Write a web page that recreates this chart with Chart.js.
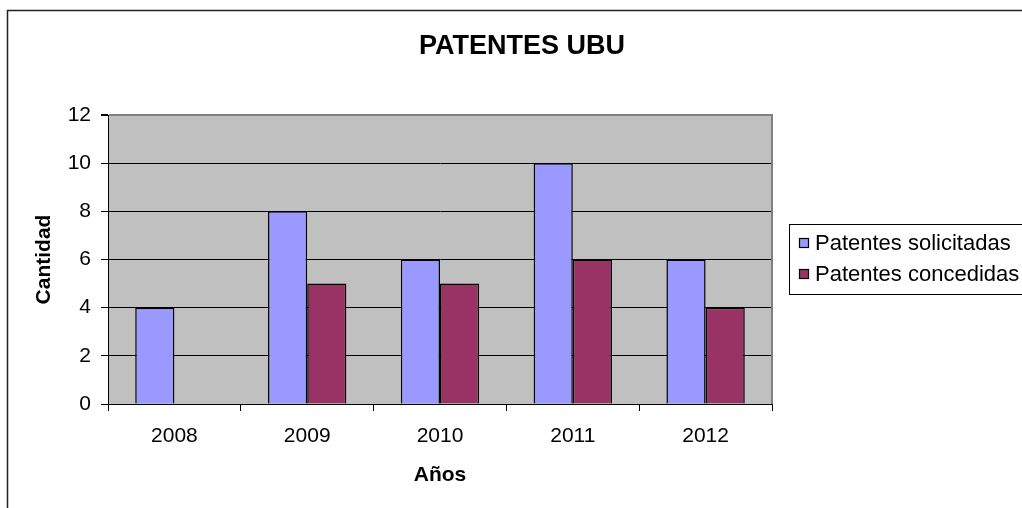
<!DOCTYPE html>
<html>
<head>
<meta charset="utf-8">
<script src="https://cdn.jsdelivr.net/npm/chart.js@4"></script>
<style>
    html, body { margin: 0; padding: 0; background: #fff; }
    #wrap { width: 1022px; height: 508px; }
</style>
</head>
<body>
<div id="wrap"><canvas id="chart-patentes" width="1022" height="508"></canvas></div>
<script>
// Datos del gráfico
const titulo = "PATENTES UBU";
const anios = ["2008", "2009", "2010", "2011", "2012"];
const solicitadas = [4, 8, 6, 10, 6];
const concedidas = [0, 5, 5, 6, 4];
const seriesLabels = ["Patentes solicitadas", "Patentes concedidas"];
const seriesColors = ["#9999FF", "#993366"];

const FONT = "Arial, 'Liberation Sans', sans-serif";

// Fondo gris del área de trazado + marco exterior + borde derecho + título
const plotBackground = {
    id: "plotBackground",
    beforeDraw(chart) {
        const { ctx, chartArea: a } = chart;
        ctx.save();
        ctx.fillStyle = "#C0C0C0";
        ctx.fillRect(a.left, a.top, a.right - a.left, a.bottom - a.top);
        ctx.restore();
    },
    afterDraw(chart) {
        const { ctx, chartArea: a } = chart;
        ctx.save();
        ctx.strokeStyle = "#808080";
        ctx.lineWidth = 2;
        ctx.beginPath();
        ctx.moveTo(a.right, a.top - 1);
        ctx.lineTo(a.right, a.bottom);
        ctx.stroke();
        // marco del gráfico
        ctx.strokeStyle = "#222";
        ctx.lineWidth = 1.5;
        ctx.strokeRect(7.5, 10.5, 1040, 520);
        // título centrado en todo el gráfico (estilo Excel)
        ctx.fillStyle = "#000";
        ctx.font = `bold 27px ${FONT}`;
        ctx.textAlign = "center";
        ctx.textBaseline = "middle";
        ctx.fillText(titulo, 522, 47);
        ctx.restore();
    }
};

// Leyenda con recuadro, estilo Excel
const boxedLegend = {
    id: "boxedLegend",
    afterDraw(chart) {
        const { ctx } = chart;
        ctx.save();
        ctx.fillStyle = "#fff";
        ctx.fillRect(789, 224, 260, 70);
        ctx.strokeStyle = "#000";
        ctx.lineWidth = 1;
        ctx.strokeRect(789.5, 224.5, 260, 70);
        ctx.font = `22px ${FONT}`;
        ctx.textBaseline = "middle";
        chart.data.datasets.forEach((ds, i) => {
            const cy = 243 + i * 31;
            ctx.fillStyle = ds.backgroundColor;
            ctx.fillRect(799, cy - 5, 10, 10);
            ctx.strokeStyle = "#000";
            ctx.lineWidth = 1.2;
            ctx.strokeRect(799.5, cy - 4.5, 9, 9);
            ctx.fillStyle = "#000";
            ctx.fillText(ds.label, 815, cy + 1);
        });
        ctx.restore();
    }
};

const ctx = document.getElementById("chart-patentes").getContext("2d");
new Chart(ctx, {
    type: "bar",
    data: {
        labels: anios,
        datasets: [
            {
                label: seriesLabels[0],
                data: solicitadas,
                backgroundColor: seriesColors[0],
                borderColor: "#000",
                borderWidth: 1.5
            },
            {
                label: seriesLabels[1],
                data: concedidas,
                backgroundColor: seriesColors[1],
                borderColor: "#000",
                borderWidth: 1.5
            }
        ]
    },
    options: {
        responsive: false,
        animation: false,
        layout: { padding: { left: 0, right: 250, top: 115, bottom: 0 } },
        datasets: { bar: { categoryPercentage: 0.59, barPercentage: 1 } },
        plugins: {
            legend: { display: false },
            tooltip: { enabled: false },
            title: { display: false }
        },
        scales: {
            x: {
                afterFit: (s) => { s.height = 104; },
                grid: {
                    offset: true,
                    drawOnChartArea: false,
                    tickLength: 7,
                    color: "#000"
                },
                border: { color: "#000", width: 1 },
                ticks: {
                    color: "#000",
                    padding: 13,
                    font: { family: FONT, size: 21 }
                },
                title: {
                    display: true,
                    text: "Años",
                    color: "#000",
                    font: { family: FONT, size: 21, weight: "bold" },
                    padding: { top: 20, bottom: 20 }
                }
            },
            y: {
                min: 0,
                max: 12,
                afterFit: (s) => { s.width = 108; },
                grid: {
                    color: (c) => (c.tick && c.tick.value === 12 ? "#808080" : "#000"),
                    lineWidth: (c) => (c.tick && c.tick.value === 12 ? 2 : 1),
                    tickLength: 7,
                    tickColor: "#000"
                },
                border: { color: "#000", width: 1 },
                ticks: {
                    stepSize: 2,
                    color: "#000",
                    padding: 10,
                    font: { family: FONT, size: 21 }
                },
                title: {
                    display: true,
                    text: "Cantidad",
                    color: "#000",
                    font: { family: FONT, size: 21, weight: "bold" },
                    padding: { top: 32, bottom: 32 }
                }
            }
        }
    },
    plugins: [plotBackground, boxedLegend]
});
</script>
</body>
</html>
